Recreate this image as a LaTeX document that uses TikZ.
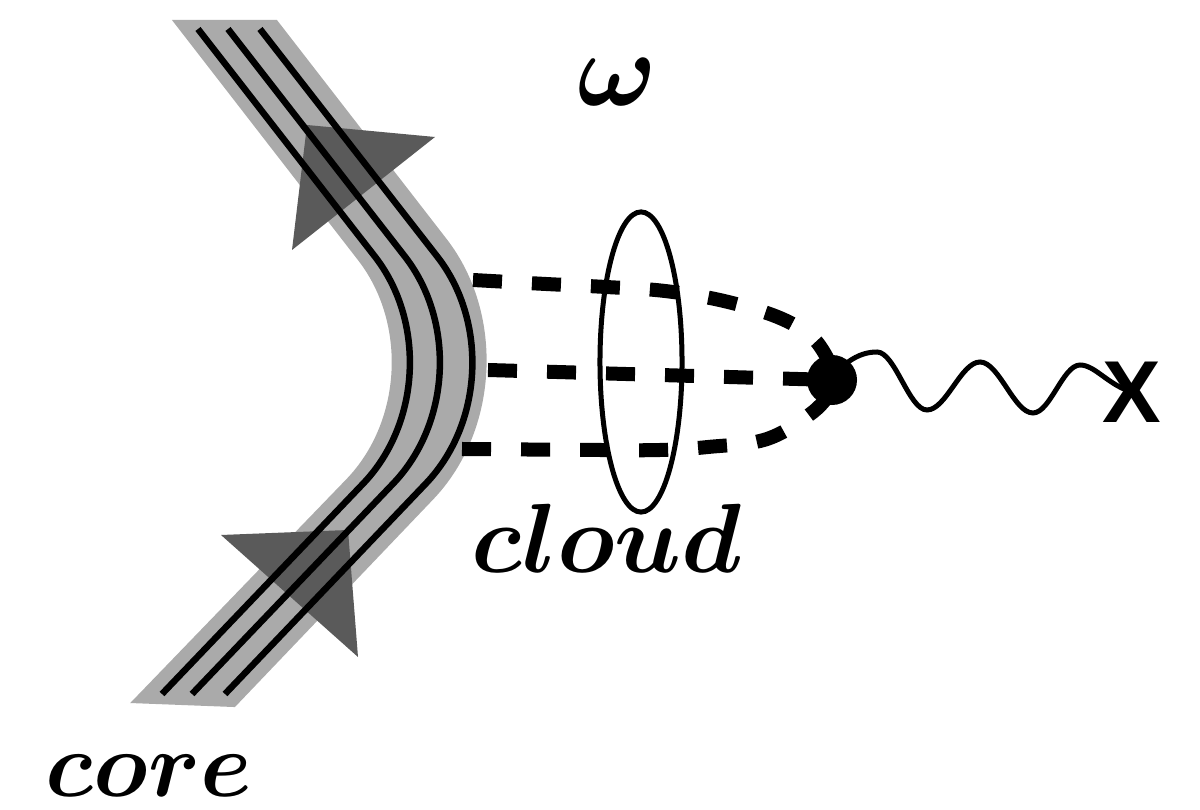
\RequirePackage{fix-cm}
\documentclass[tikz,border=0pt]{standalone}
\usepackage{fontspec}
\usepackage{bm}
\usetikzlibrary{shapes.geometric}
\newfontfamily\xfont{Liberation Sans}
\definecolor{bandgray}{RGB}{170,170,170}
\definecolor{trigray}{RGB}{90,90,90}
\begin{document}
\begin{tikzpicture}[x=0.01cm,y=-0.01cm,
  bandfill/.style={fill=bandgray},
  arrowtri/.style={fill=trigray},
  fline/.style={line width=0.65mm, rounded corners=1.5cm},
  dashline/.style={line width=1.4mm, dash pattern=on 2.9mm off 3mm},
  thinline/.style={line width=0.5mm},
  mathlabel/.style={inner sep=0pt, anchor=base}]
\useasboundingbox (0,0) rectangle (1200,810);
% core band
\begin{scope}
  \clip (0,20) -- (700,20) -- (700,725) -- (0,698) -- cycle;
  \fill[bandfill] (-138,-380) [rounded corners=1.45cm] -- (447,375) -- (-256,1103)
     [rounded corners=1.72cm] -- (-147,1107) -- (552,375) -- (-33,-380) -- cycle;
\end{scope}
% arrow triangles
\fill[arrowtri] (307,125) -- (435,137) -- (292,250) -- cycle;
\fill[arrowtri] (221,535) -- (348,530) -- (358,657) -- cycle;
% flux lines
\coordinate (la) at (198,29); \coordinate (lb) at (467,375); \coordinate (lc) at (162,694);
\coordinate (ma) at (228,29); \coordinate (mb) at (497,375); \coordinate (mc) at (192,694);
\coordinate (ra) at (260,29); \coordinate (rb) at (529.5,375); \coordinate (rc) at (225,694);
\draw[fline] (la) -- (lb) -- (lc);
\draw[fline] (ma) -- (mb) -- (mc);
\draw[fline] (ra) -- (rb) -- (rc);
% blob
\node[circle, fill=black, minimum size=5mm, inner sep=0pt] (blob) at (832,380) {};
% dashed lines
\draw[dashline] plot[smooth, tension=0.6] coordinates {(473,280) (546,284) (606,287) (665,291) (724,301) (780,318) (815,340) (834,372)};
\draw[dashline] (488,370) -- (blob.center);
\draw[dashline] plot[smooth, tension=0.6] coordinates {(462,449) (600,450) (660,450) (708,447) (767,439) (813,412) (834,388)};
% ellipse (cloud)
\node[draw, thinline, ellipse, minimum width=8.2mm, minimum height=30mm, inner sep=0pt] (ell) at (641,362) {};
% X
\node[inner sep=0pt, font=\xfont\bfseries\fontsize{25}{30}\selectfont] (xlab) at (1132,392) {X};
% wave
\coordinate (w0) at (848,362);
\draw[thinline] (w0) .. controls (858,355) and (867,352) .. (877,352)
  .. controls (895,352) and (909,410) .. (927,410)
  .. controls (946,410) and (961,362) .. (980,362)
  .. controls (999,362) and (1014,413) .. (1033,413)
  .. controls (1050,413) and (1063,365) .. (1080,365)
  .. controls (1095,365) and (1108,385) .. (xlab.center);
% labels
\node[inner sep=0pt, font=\fontsize{30}{36}\selectfont] (omega) at (617,82) {$\bm{\omega}$};
\node[mathlabel, font=\fontsize{28}{34}\selectfont] (cloud) at (607,573) {$\bm{cloud}$};
\node[mathlabel, font=\fontsize{26.5}{32}\selectfont] (core) at (149,797) {$\bm{core}$};
\end{tikzpicture}
\end{document}
